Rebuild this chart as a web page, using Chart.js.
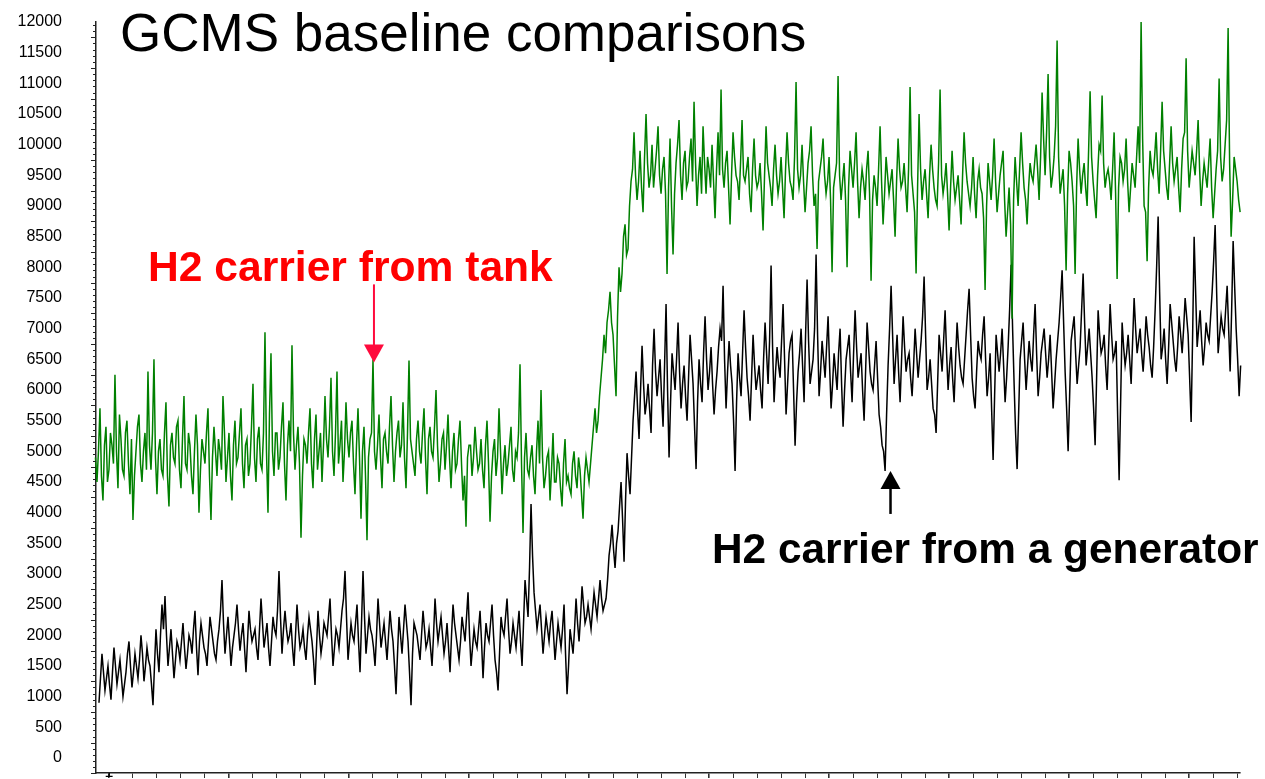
<!DOCTYPE html>
<html>
<head>
<meta charset="utf-8">
<title>GCMS baseline comparisons</title>
<script src="https://cdn.jsdelivr.net/npm/chart.js@4.4.1/dist/chart.umd.min.js"></script>
<style>
  html, body { margin: 0; padding: 0; background: #fff; }
  #wrap { width: 1265px; height: 779px; }
</style>
</head>
<body>
<div id="wrap"><canvas id="gcmsChart" width="1265" height="779"></canvas></div>
<script>
// baseline abundance, H2 carrier from tank (green), one reading every scanStep scans
const tankSignal = [
  4800, 5300, 4500, 5700, 4200, 5400, 4700, 5100, 6250, 4400,
  5200, 4600, 5500, 4300, 3880, 5000, 5600, 4500, 5300, 6300,
  4700, 6500, 4300, 5200, 4600, 5800, 4100, 5300, 4800, 5500,
  4400, 5900, 4700, 5100, 4300, 5600, 4000, 5200, 4800, 5700,
  3880, 5400, 4600, 5000, 5900, 4500, 5300, 4200, 5500, 4900,
  5700, 4400, 5200, 4800, 6100, 4500, 5400, 4700, 6940, 4000,
  6600, 4600, 5300, 4900, 5800, 4200, 5500, 6730, 4700, 5400,
  3590, 5200, 4800, 5700, 4400, 5600, 5000, 4500, 5900, 4900,
  6200, 4600, 6300, 5100, 4500, 5800, 4900, 5500, 4300, 5700,
  3900, 5400, 3550, 5200, 6500, 4700, 5600, 4400, 5300, 4800,
  5900, 4500, 5300, 4900, 5800, 4400, 6480, 5000, 4600, 5500,
  4800, 5700, 4300, 5400, 4900, 6000, 4500, 5200, 4700, 5600,
  4400, 5300, 4800, 5500, 4200, 3770, 5100, 4600, 5400, 4700,
  5200, 4400, 5500, 3850, 5000, 4600, 5700, 4300, 5100, 4800,
  5400, 4500, 4900, 6420, 3670, 5300, 4600, 5100, 4300, 5500,
  6000, 4400, 4900, 4200, 5300, 4500, 4800, 4100, 5200, 4600,
  4300, 5000, 4400, 4700, 3900, 4900, 4500, 5100, 5700, 5500,
  6200, 6900, 7100, 7600, 6900, 5900, 8000, 7900, 8700, 8300,
  9400, 10200, 9100, 9900, 8900, 10500, 9300, 10000, 9600, 10300,
  9200, 9800, 7890, 10100, 8210, 9700, 10400, 9100, 9900, 9400,
  10100, 10700, 9000, 9800, 10300, 9200, 9600, 10000, 8800, 10200,
  10900, 9300, 9900, 8700, 10200, 9500, 9100, 10400, 9400, 9800,
  8900, 10100, 9300, 9700, 8600, 10300, 9500, 9000, 10000, 9200,
  9800, 8800, 10200, 9400, 9100, 11020, 9300, 10000, 8900, 9700,
  10300, 9000, 8300, 9600, 10100, 9200, 9800, 7920, 9500, 11120,
  9100, 9700, 8000, 9900, 9300, 10200, 8800, 9600, 9100, 9900,
  7780, 9500, 9000, 10300, 8700, 9800, 9200, 9600, 8500, 10100,
  9300, 9700, 8900, 10940, 9200, 7900, 10500, 9100, 9600, 8800,
  10000, 9300, 9000, 10900, 9200, 9700, 8600, 9900, 9100, 9500,
  8700, 10200, 9400, 9000, 9800, 8800, 9600, 9200, 7630, 9700,
  9100, 10100, 8900, 9500, 9900, 8500, 9300, 7160, 9800, 9000,
  10200, 9300, 8700, 9700, 9400, 10000, 9100, 10850, 9500, 11150,
  9300, 9800, 11700, 9200, 9600, 7950, 9900, 9400, 7890, 10100,
  9200, 9700, 9000, 10870, 9400, 8800, 10000, 10800, 9300, 9600,
  9100, 10200, 7810, 9800, 9400, 10100, 8900, 9700, 9300, 10300,
  12000, 9000, 8100, 9900, 9500, 10200, 9200, 10700, 9600, 9100,
  10300, 9400, 9800, 8900, 10100, 11410, 9300, 9900, 9500, 10400,
  9000, 9700, 9300, 10100, 8800, 9600, 11080, 9400, 10000, 11900,
  8500, 9800, 9400, 8900
];

// readings taken half a step after each tankSignal reading
const tankSignalMid = [
  5100, 4900, 5000, 4600, 5100, 4500, 5300, 4800, 5000, 5600,
  4700, 5300, 4800, 5200, 4600, 5400, 4800, 5000, 4700, 5100,
  5300, 4900, 5000, 4700, 5300, 4600, 5100, 4900, 5400, 4700,
  5200, 4800, 5300, 4600, 5000, 5100, 4700, 5000, 5300, 4600,
  4900, 5000, 5200, 4700, 5300, 4900, 4600, 5100, 4800, 5300,
  4800, 5100, 4600, 5400, 4900, 5200, 4800, 5300, 5000, 5600,
  5000, 5300, 4700, 5400, 4800, 5100, 5000, 5300, 5100, 4800,
  4600, 5100, 5300, 4800, 5200, 4700, 5300, 5100, 5200, 5400,
  5000, 5300, 4800, 5500, 5000, 5200, 5300, 4800, 5100, 4900,
  5000, 4600, 4900, 5300, 5000, 5100, 4900, 5200, 5000, 5400,
  5100, 5000, 5500, 5100, 4900, 5300, 5200, 4800, 5200, 5000,
  5300, 4900, 5200, 5000, 5400, 5100, 4800, 5300, 5100, 4900,
  5000, 4700, 5200, 4800, 4600, 4900, 5100, 4900, 5000, 4800,
  4700, 5100, 4800, 4600, 5200, 4900, 5000, 4800, 4600, 5100,
  4700, 5000, 5300, 4800, 4900, 4700, 4900, 4600, 5000, 4800,
  4900, 4600, 5000, 4700, 4500, 4900, 4400, 4800, 4500, 4400,
  4800, 4600, 4900, 4300, 4600, 4700, 4800, 5400, 5300, 5900,
  6500, 6600, 7300, 7100, 6400, 7200, 7600, 8500, 8200, 9000,
  9600, 9500, 9400, 9300, 9800, 9700, 9500, 9300, 9900, 9500,
  9600, 9200, 9300, 9000, 9200, 10000, 9500, 9700, 9300, 9800,
  9400, 9700, 9500, 9200, 9700, 9800, 9300, 9400, 9600, 9500,
  9600, 9700, 9300, 9500, 9800, 9400, 9700, 9500, 9600, 9200,
  9600, 9500, 9400, 9200, 9500, 9700, 9300, 9600, 9500, 9400,
  9300, 9600, 9700, 9300, 9800, 9600, 9500, 9400, 9300, 9900,
  9500, 9200, 9400, 9800, 9500, 9400, 9100, 9300, 9700, 9500,
  9400, 9100, 9300, 9600, 9700, 9400, 9300, 9400, 9600, 9200,
  9100, 9300, 9600, 9400, 9200, 9500, 9400, 9100, 9400, 9600,
  9400, 9300, 9600, 9500, 8900, 9300, 9600, 9400, 9200, 9500,
  9600, 9100, 9700, 9500, 9400, 9200, 9300, 9400, 9300, 9100,
  9500, 9700, 9200, 9300, 9200, 9400, 9300, 8800, 9000, 9400,
  9500, 9400, 9200, 9700, 9100, 8900, 8700, 9100, 9400, 9600,
  9700, 9100, 9300, 9500, 9700, 9600, 9800, 10100, 10200, 9800,
  9500, 10300, 9800, 9400, 9000, 9200, 9700, 9000, 9300, 9600,
  9500, 9300, 9900, 9800, 9100, 9500, 9900, 9700, 9500, 9400,
  9600, 9200, 9300, 9700, 9600, 9400, 9300, 9500, 9800, 9700,
  10100, 8900, 9300, 9600, 9800, 9600, 9900, 9900, 9300, 9700,
  9700, 9600, 9300, 9600, 10200, 9900, 9600, 9700, 9900, 9600,
  9400, 9500, 9700, 9300, 9200, 9900, 9800, 9600, 10400, 9700,
  9100, 9600, 9100
];

// baseline abundance, H2 carrier from a generator (black)
const generatorSignal = [
  900, 1700, 1100, 1500, 950, 1800, 1200, 1600, 1000, 1400,
  1900, 1150, 1700, 1300, 2000, 1250, 1800, 1500, 860, 2100,
  1400, 2500, 2640, 1500, 2100, 1300, 1900, 1600, 2200, 1450,
  2000, 1700, 2400, 1350, 2200, 1800, 1500, 2300, 1900, 1600,
  2100, 2900, 1700, 2300, 1500, 2000, 2500, 1750, 2200, 1400,
  2400, 1900, 2100, 1600, 2600, 1800, 2200, 1500, 2300, 2000,
  3050, 1700, 2400, 1900, 2200, 1500, 2500, 1800, 2100, 1600,
  2300, 1900, 1190, 2400, 1700, 2200, 2000, 2600, 1500, 2100,
  1800, 2400, 3050, 1600, 2200, 1900, 2500, 1400, 3050, 1700,
  2300, 2000, 1500, 2600, 1800, 2200, 1600, 2400, 1900, 1040,
  2300, 1700, 2500, 1900, 860, 2200, 2000, 1600, 2400, 1800,
  2100, 1500, 2600, 1900, 2300, 1700, 2200, 1400, 2500, 2000,
  1600, 2300, 1900, 2700, 1500, 2100, 1800, 2400, 1300, 2200,
  1900, 2500, 1600, 1100, 2300, 2000, 2600, 1700, 2200, 1800,
  2400, 1500, 2900, 2300, 4140, 2700, 2100, 2500, 1700, 2300,
  1900, 2400, 1600, 2200, 1800, 2500, 1040, 2100, 1700, 2600,
  1900, 2800, 2200, 2500, 2100, 2700, 2300, 2900, 2400, 2600,
  3300, 3800, 3100, 3700, 4500, 3200, 4970, 4300, 5500, 6300,
  5200, 6720, 5600, 6100, 5300, 7000, 5900, 6500, 5400, 7400,
  4900, 6600, 6000, 7100, 5700, 6400, 5500, 6900, 6100, 4710,
  6500, 5800, 7200, 6000, 6700, 5600, 6300, 7000, 7700, 5700,
  6800, 6100, 4680, 6600, 5900, 7300, 6200, 5500, 6900, 6000,
  6400, 5700, 7100, 6100, 8030, 5800, 6700, 6200, 7400, 5600,
  6600, 6900, 5090, 6300, 7000, 5800, 7800, 6100, 6500, 8210,
  5900, 6800, 6200, 7200, 5700, 6600, 6000, 7000, 5400, 6500,
  6900, 5800, 7300, 6200, 6600, 5500, 7100, 6300, 6000, 6800,
  5600, 5100, 4680, 6400, 7700, 6100, 6900, 5800, 7200, 6300,
  6600, 5900, 7000, 6200, 6800, 7850, 6000, 6500, 5700, 5300,
  6900, 6300, 7300, 6000, 6700, 5800, 7100, 6400, 6100, 6900,
  7650, 6200, 5700, 6800, 6500, 7200, 5900, 6600, 4860, 6900,
  6300, 7000, 5800, 6700, 8040, 6100, 4710, 6500, 7100, 6000,
  6800, 6300, 7400, 5900, 6600, 7000, 6200, 6900, 5700, 6500,
  7100, 7950, 6300, 5000, 6800, 7200, 6100, 6700, 7900, 6400,
  7000, 6200, 5100, 7300, 6600, 6900, 6000, 7400, 6500, 6800,
  4530, 7100, 6400, 6900, 6100, 7500, 6600, 7000, 6300, 7200,
  6700, 6200, 7300, 8830, 6500, 7000, 6100, 7400, 6800, 6300,
  7200, 6600, 7500, 6900, 5480, 8500, 6700, 7300, 6400, 7100,
  6800, 7600, 8690, 6600, 7200, 6900, 7700, 6300, 8430, 7000,
  5900, 6900
];

// readings taken half a step after each generatorSignal reading
const generatorSignalMid = [
  1300, 1400, 1300, 1200, 1400, 1500, 1400, 1300, 1200, 1700,
  1500, 1400, 1500, 1600, 1700, 1500, 1600, 1200, 1500, 1700,
  2000, 2100, 2000, 1800, 1700, 1600, 1800, 1900, 1800, 1700,
  1900, 2100, 1800, 1900, 2000, 1700, 1900, 2100, 1700, 1900,
  2400, 2200, 2000, 1900, 1800, 2200, 2100, 2000, 1800, 1900,
  2100, 2000, 1800, 2100, 2200, 2000, 1800, 1900, 2100, 2400,
  2300, 2100, 2100, 2000, 1800, 2000, 2100, 1900, 1800, 2000,
  2100, 1600, 1800, 2000, 1900, 2100, 2300, 2000, 1800, 2000,
  2100, 2600, 2300, 1900, 2000, 2200, 1900, 2200, 2300, 2000,
  2100, 1800, 2000, 2200, 2000, 1900, 2000, 2100, 1500, 1700,
  2000, 2100, 2200, 1400, 1700, 2100, 1800, 2000, 2100, 1900,
  1800, 2000, 2200, 2100, 2000, 1900, 1800, 2000, 2200, 1800,
  1900, 2100, 2300, 2000, 1800, 1900, 2100, 1900, 1800, 2000,
  2200, 2000, 1400, 1700, 2100, 2300, 2100, 1900, 2000, 2100,
  1900, 2200, 2600, 3100, 3300, 2400, 2300, 2100, 2000, 2100,
  2200, 2000, 1900, 2000, 2100, 1700, 1500, 1900, 2100, 2200,
  2300, 2500, 2300, 2300, 2400, 2500, 2600, 2600, 2500, 2900,
  3500, 3400, 3500, 4100, 3900, 4200, 4600, 4900, 5900, 5700,
  6000, 6100, 5800, 5700, 6400, 6300, 6200, 5900, 6400, 6000,
  5800, 6300, 6500, 6300, 6100, 5900, 6200, 6500, 5400, 5800,
  6100, 6600, 6500, 6300, 6100, 6000, 6700, 6800, 6500, 6300,
  6400, 5500, 5800, 6200, 6600, 6700, 5900, 6200, 6400, 6200,
  6000, 6500, 6600, 6800, 6700, 6300, 6400, 6800, 6500, 6100,
  6800, 6000, 5800, 6600, 6400, 6900, 6800, 6300, 7000, 6900,
  6300, 6500, 6700, 6400, 6100, 6300, 6600, 6100, 6000, 6700,
  6300, 6600, 6700, 6400, 6000, 6300, 6700, 6100, 6400, 6200,
  5400, 5000, 5600, 7000, 6900, 6500, 6300, 6500, 6700, 6500,
  6200, 6400, 6600, 6500, 7200, 6900, 6200, 6100, 5600, 6100,
  6600, 6800, 6600, 6400, 6200, 6500, 6700, 6200, 6500, 7300,
  6900, 5900, 6300, 6600, 6900, 6500, 6200, 5700, 5900, 6600,
  6600, 6400, 6200, 7300, 7000, 5300, 5600, 6800, 6500, 6400,
  6500, 6900, 6600, 6200, 6800, 6600, 6500, 6300, 6100, 6800,
  7500, 7100, 5700, 5900, 7000, 6600, 6400, 7300, 7100, 6700,
  6600, 5700, 6200, 6900, 6700, 6400, 6700, 6900, 6600, 5600,
  5800, 6700, 6600, 6500, 6800, 7000, 6800, 6600, 6700, 6900,
  6400, 6700, 8000, 7600, 6700, 6500, 6700, 7100, 6500, 6700,
  6900, 7000, 7200, 6200, 6900, 7600, 7000, 6800, 6700, 6900,
  7200, 8100, 7600, 6900, 7000, 7300, 7000, 7300, 7700, 6500,
  6400
];

const tankStartScan = -17.75;
const generatorStartScan = -9.4;
const scanStep = 3.125;

const yTickValues = [0, 500, 1000, 1500, 2000, 2500, 3000, 3500, 4000, 4500, 5000, 5500, 6000,
  6500, 7000, 7500, 8000, 8500, 9000, 9500, 10000, 10500, 11000, 11500, 12000];

// x ticks every 25 scans, only the first one is labelled
const xTickScans = [];
for (let s = 1; s <= 1176; s += 25) xTickScans.push(s);

// arrow tips: [scan, abundance]
const tankArrowTip = [277, 6450];
const generatorArrowTip = [815, 4680];

const FONT = '"Liberation Sans", Arial, Helvetica, sans-serif';

// merge the main readings and the half-step readings into one trace
function toPoints(values, midValues, start) {
  const pts = [];
  values.forEach((v, i) => {
    pts.push({ x: start + i * scanStep, y: v });
    if (i < midValues.length) pts.push({ x: start + (i + 0.5) * scanStep, y: midValues[i] });
  });
  return pts;
}

function drawArrow(ctx, tipX, tipY, dir, shaft, color, width) {
  // dir = 1 points down, -1 points up
  const head = 18;
  ctx.strokeStyle = color;
  ctx.fillStyle = color;
  ctx.lineWidth = width;
  ctx.beginPath();
  ctx.moveTo(tipX, tipY - dir * (head - 1));
  ctx.lineTo(tipX, tipY - dir * (head + shaft));
  ctx.stroke();
  ctx.beginPath();
  ctx.moveTo(tipX, tipY);
  ctx.lineTo(tipX - 10, tipY - dir * head);
  ctx.lineTo(tipX + 10, tipY - dir * head);
  ctx.closePath();
  ctx.fill();
}

const decorations = {
  id: 'decorations',
  afterDraw(chart) {
    const { ctx, scales: { x, y } } = chart;
    ctx.save();

    // y tick marks sit between the labels, minor every 100
    ctx.strokeStyle = '#222';
    ctx.lineWidth = 1;
    for (let v = -250; v < 12000; v += 100) {
      const py = Math.round(y.getPixelForValue(v)) + 0.5;
      const major = (v + 250) % 500 === 0;
      ctx.beginPath();
      ctx.moveTo(x.left, py);
      ctx.lineTo(x.left - (major ? 5 : 3), py);
      ctx.stroke();
    }

    ctx.textBaseline = 'alphabetic';
    ctx.textAlign = 'left';
    ctx.fillStyle = '#000';
    ctx.font = '53px ' + FONT;
    ctx.fillText('GCMS baseline comparisons', 120, 51);

    ctx.fillStyle = '#ff0000';
    ctx.font = 'bold 42.6px ' + FONT;
    ctx.fillText('H2 carrier from tank', 148, 281);

    ctx.fillStyle = '#000';
    ctx.font = 'bold 42.4px ' + FONT;
    ctx.fillText('H2 carrier from a generator', 712, 563);

    drawArrow(ctx, x.getPixelForValue(tankArrowTip[0]), y.getPixelForValue(tankArrowTip[1]),
      1, 60, '#ff0a3c', 2);
    drawArrow(ctx, x.getPixelForValue(generatorArrowTip[0]), y.getPixelForValue(generatorArrowTip[1]),
      -1, 25, '#000', 2.5);

    ctx.restore();
  }
};

const ctx = document.getElementById('gcmsChart').getContext('2d');
const gcmsChart = new Chart(ctx, {
  type: 'line',
  data: {
    datasets: [
      { label: 'H2 carrier from tank', data: toPoints(tankSignal, tankSignalMid, tankStartScan), borderColor: '#008000', borderWidth: 1.5, clip: false },
      { label: 'H2 carrier from a generator', data: toPoints(generatorSignal, generatorSignalMid, generatorStartScan), borderColor: '#000000', borderWidth: 1.5, clip: false }
    ]
  },
  options: {
    responsive: false,
    animation: false,
    devicePixelRatio: 1,
    layout: { padding: { left: 0, right: 25, top: 22, bottom: 0 } },
    elements: { point: { radius: 0 }, line: { tension: 0 } },
    plugins: { legend: { display: false }, tooltip: { enabled: false } },
    scales: {
      x: {
        type: 'linear',
        min: -12.5,
        max: 1179,
        afterBuildTicks: s => { s.ticks = xTickScans.map(v => ({ value: v })); },
        afterFit: s => { s.height = 6; s.paddingLeft = 0; s.paddingRight = 0; },
        grid: {
          drawOnChartArea: false,
          drawTicks: true,
          tickLength: 5,
          tickColor: '#333',
          lineWidth: c => (c.index % 5 === 0 ? 1.6 : 1)
        },
        border: { color: '#222', width: 1.5 },
        ticks: {
          autoSkip: false,
          maxRotation: 0,
          padding: -15,
          color: '#000',
          font: { family: FONT, size: 16 },
          callback: (v, i) => (i === 0 ? '1' : '')
        }
      },
      y: {
        type: 'linear',
        min: -245,
        max: 12000,
        afterBuildTicks: s => { s.ticks = yTickValues.map(v => ({ value: v })); },
        // fixed axis width; tick padding should not push the plot down
        afterFit: s => { s.width = 96; s.paddingTop = 0; s.paddingBottom = 0; },
        grid: { display: false, drawTicks: false },
        border: { color: '#222', width: 1.5 },
        ticks: {
          padding: 34,
          color: '#000',
          font: { family: FONT, size: 16 },
          callback: v => String(v)
        }
      }
    }
  },
  plugins: [decorations]
});
</script>
</body>
</html>
